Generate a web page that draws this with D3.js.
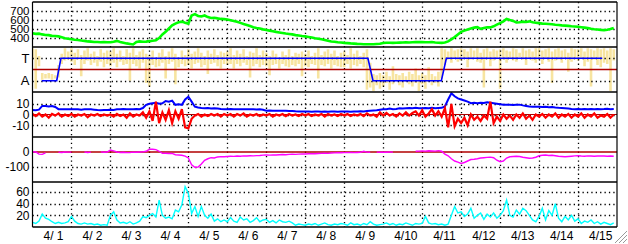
<!DOCTYPE html>
<html>
<head>
<meta charset="utf-8">
<script src="https://cdn.jsdelivr.net/npm/d3@7"></script>
<style>
  html, body { margin: 0; padding: 0; background: #fff; }
  svg { display: block; font-family: "Liberation Sans", Arial, sans-serif; }
</style>
</head>
<body>
<svg id="chart" width="628" height="244"></svg>
<script>
// ── Data: one sample every 2 hours from 4/1 00:00 (12 per day) ─────────────
const green = [
  452,446,448,440,434,432,424,422,418,408,398,392,
  386,380,378,372,368,362,360,356,355,352,354,352,
  352,358,368,356,348,340,334,328,355,362,358,360,
  365,370,376,400,440,470,505,540,560,575,582,570,
  560,650,665,645,640,650,632,622,625,618,612,610,
  605,598,590,580,568,555,545,533,520,512,505,496,
  489,482,475,468,462,456,450,445,440,432,428,422,
  418,412,405,398,392,386,378,370,362,358,352,350,
  346,343,340,338,335,333,331,330,330,331,334,336,
  345,348,347,346,348,349,350,351,350,352,354,355,
  354,353,352,355,350,348,346,350,362,385,410,440,
  468,482,495,505,515,520,502,512,520,518,530,548,
  565,585,612,600,590,572,575,582,578,585,575,570,
  565,560,558,555,552,548,545,540,538,535,530,528,
  525,520,515,510,502,498,495,490,488,492,500,512
];

// pale yellow streaks (T = 1, A = -1): upper and lower end per sample
const yellowHi = [
  1.9,1.8,1.2,-0.3,-0.4,-0.3,-0.4,-0.5,0.4,1.4,1.9,1.6,
  1.9,1.5,1.8,1.3,1.7,1.9,1.4,1.6,1.2,1.8,1.5,1.7,
  1.6,1.9,1.4,1.7,1.2,1.8,1.5,1.9,1.3,1.6,1.8,1.4,
  1.3,1.7,1.1,1.5,1.8,1.2,1.6,1.9,1.4,1.1,1.7,1.3,
  1.8,1.4,1.6,1.9,1.5,1.2,1.7,1.4,1.8,1.3,1.6,1.5,
  1.6,1.9,1.3,1.7,1.4,1.8,1.2,1.6,1.5,1.9,1.3,1.7,
  1.5,1.2,1.7,1.4,1.1,1.6,1.3,1.8,1.2,1.5,1.4,1.6,
  1.4,1.7,1.2,1.5,1.9,1.3,1.6,1.8,1.4,1.7,1.2,1.5,
  1.6,1.3,1.9,1.4,1.7,1.2,1.5,1.8,0.6,-0.4,-0.5,-0.3,
  -0.5,-0.2,-0.6,0.3,-0.4,-0.5,-0.3,-0.6,-0.2,-0.4,0.1,-0.5,
  -0.3,-0.5,0.2,-0.4,-0.6,-0.2,1.9,1.8,1.6,1.9,1.7,1.8,
  1.9,1.8,1.6,1.9,1.7,1.9,1.5,1.8,1.9,1.6,1.8,1.7,
  1.8,1.9,1.7,1.6,1.9,1.8,1.5,1.9,1.7,1.8,1.6,1.9,
  1.9,1.7,1.8,1.9,1.6,1.8,1.9,1.7,1.8,1.5,1.9,1.8,
  1.8,1.9,1.6,1.9,1.8,1.7,1.9,1.8,1.9,1.7,1.9,1.8
];
const yellowLo = [
  0.9,-1.7,0.3,-0.9,-0.8,-0.8,-0.9,-0.8,-0.7,0.5,0.8,0.9,
  0.7,0.4,0.9,-0.6,0.5,0.8,0.4,0.6,0.3,0.7,0.2,0.5,
  0.3,0.6,0.2,0.7,0.4,0.5,-1.0,0.5,0.3,0.1,0.6,-1.2,
  -1.5,0.4,0.2,0.3,0.6,-0.8,0.5,0.7,-1.3,0.2,0.5,0.3,
  0.4,0.1,0.5,0.6,0.2,0.4,-0.4,0.5,0.6,0.3,0.1,0.5,
  0.4,0.5,0.1,0.5,0.3,0.6,0.4,-0.7,0.3,0.5,0.2,0.4,
  0.3,-0.5,0.4,0.5,0.1,0.5,0.3,0.2,0.4,0.3,0.5,-0.6,
  0.3,0.2,0.5,0.4,-0.8,0.4,0.3,0.5,0.1,0.4,0.3,0.2,
  0.2,0.5,0.1,0.4,0.3,0.5,0.2,-1.8,-1.6,-1.9,-1.4,-1.7,
  -1.5,-1.2,-1.8,-1.3,-1.0,-1.4,-1.6,-1.1,-1.3,-1.5,-1.2,-1.9,
  -1.3,-1.7,-1.1,-1.4,-1.2,-1.5,-0.8,0.4,0.9,0.6,1.0,0.7,
  0.8,1.0,0.2,0.9,1.1,0.7,0.6,-1.6,0.9,0.3,0.8,1.0,
  -1.7,0.9,0.6,1.0,0.8,0.7,1.1,0.9,0.4,1.0,0.8,0.6,
  0.9,0.5,1.0,0.7,-1.2,0.8,0.9,0.6,1.0,-0.2,0.7,0.9,
  0.8,1.0,0.3,0.7,-1.5,0.9,0.4,0.2,0.6,0.5,-1.9,0.8
];

// blue mode line in panel 2 (hours from 4/1 00:00)
const modeHours  = [5.7, 14.9, 17.5, 206.6, 209.7, 251.8, 254.9, 350.9];
const modeValues = [-1, -1, 1, 1, -1, -1, 1, 1];

const blue = [
  4.2,4.0,4.5,8,8,7.5,8,7,5,5,4.8,5,
  5,4.8,5,4.5,4.9,5,4.8,4.5,4.2,4,4.2,4.2,
  4.5,4.2,4.8,5,5.2,5,4.8,5,5.2,5,6,9,
  10,10.5,11,10,10.5,12.6,12,13,9,9.5,9,14,
  16.6,12,7.3,6.5,6,5.8,6,5.5,5.8,5.5,5.2,5,
  5,5.2,4.8,5,5,4.8,5,4.8,5,4.7,4.8,4.5,
  3.6,3.8,3.5,3.6,3.4,3.6,3.5,3.3,3.2,3.0,2.9,2.8,
  2.7,2.8,2.6,2.7,2.8,2.6,2.7,2.5,2.7,2.8,2.6,2.7,
  2.7,2.8,2.6,2.9,2.7,3.0,2.8,3.2,3.5,3.8,4.0,4.5,
  4.8,5.0,5.5,5.0,5.2,5.8,5.5,5.8,6.0,5.8,6.2,5.8,
  5.8,6.0,5.8,6.2,5.8,6.0,6.2,7.5,14,19.8,17,15,
  14,13,12,10.5,11,10.5,11,10.8,11.5,11,10.5,10,
  9.5,9,9.2,9,8.8,9,9.2,8.5,8,7.5,7.3,7.2,
  7.3,7,7.2,6.8,7,6.5,6.2,6,5.8,5.5,5.2,5.0,
  5.1,5.0,5.2,4.9,5.1,5.0,5.2,5.0,5.1,5.3,5.0,5.2
];
const red = [
  0.5,-1.5,1,-2,0,-3,0.5,-1,1,-2,0,-1.5,
  0.5,-2,0,-1,0.5,-2.5,0,-1,0.5,-1.5,0,-1,
  0,-2,0.5,-1.5,0,-3,1,-2,0,-1,2,-3,
  3,-6,12,-8,2,-5,4,-8,3,-4,5,-12,
  -13,-4,-1,0.5,-2,0,-1.5,0.5,-1,0.5,-2,0.5,
  -1,0.5,-2,0.5,-1,1,-2,0,-1,0.5,-1.5,0,
  -1,0.5,-2,0,-1,0.5,-1.5,0.5,-1,0,-1.5,0.5,
  -1,0.5,-1.5,0,-1,0.5,-2,0.5,-1,0,-1.5,0.5,
  -1,0.5,-1.5,0,-1,0.5,-1.5,1,-1,0,-2,2,
  -1,1.5,-1,0.5,-2,1,-1,2,-1,1.5,3,-1,
  4,-2,1,5,-1,3,-2,6,-12,10,-11,-4,
  -8,-3,-10,0,-5,-2,-6,-1,-4,12,-8,-2,
  -6,0,-4,-1,-5,0,-3,1,-4,-1,-5,0,
  -2,0.5,-3,0,-2,1,-3,0,-2,0.5,-3,0,
  -2,1,-3,0,-2,1,-3,-1,-2,0.5,-3,0
];
const magenta = [
  2,0,-14,-16,-6,null,null,null,-2,-3,0,-1,
  -1,null,null,null,0,-3,-1,null,null,1,-2,0,
  13,8,0,-3,-2,-4,-3,-1,-2,0,1,5,
  18,18,16,5,-9,-8,-10,-9,-18,-20,-22,-28,
  -40,-85,-102,-100,-80,-55,-45,-38,-40,-33,-31,-32,
  -30,-28,-29,-27,-28,-26,-27,-25,-26,-24,-23,-21,
  -20,-21,-19,-20,-18,-17,-18,-16,-15,-16,-14,-13,
  -13,-12,-11,-12,-10,-9,-8,-9,-7,-6,-5,-5,
  -4,-4,-3,-4,-3,-2,5,-1,-2,null,-1,-2,
  -1,-2,0,-1,null,null,null,null,null,null,5,6,
  7,6,8,7,6,9,5,-15,-25,-45,-60,-68,
  -76,-70,-60,-50,-48,-45,-40,-38,-36,-34,-38,-55,
  -65,-60,-40,-32,-30,-28,-30,-35,-38,-42,-40,-35,
  -25,-22,-20,-23,-22,-25,-28,-30,-32,-30,-28,-26,
  -25,-27,-28,-26,-27,-28,-27,-26,-27,-28,-27,-28
];
const cyan = [
  8,6,10,22,15,13,9,6,8,6,7,9,
  18,10,6,5,7,5,6,4,5,3,4,3,
  20,26,12,7,8,6,9,5,7,10,18,16,
  20,23,17,46,20,15,17,14,29,26,38,69,
  58,23,35,18,35,20,15,22,10,14,9,12,
  9,16,10,8,17,12,14,8,11,16,9,12,
  13,8,11,7,12,9,8,10,7,3,5,4,
  3,5,4,6,3,5,7,4,3,5,4,6,
  5,3,7,4,5,3,6,4,9,5,3,4,
  5,7,4,6,3,5,4,7,5,3,6,5,
  6,18,7,5,6,4,5,3,5,20,35,24,
  26,18,22,32,15,20,24,13,22,17,24,15,
  20,28,46,20,17,29,22,32,28,20,12,9,
  18,32,12,28,20,40,15,9,18,12,20,10,
  14,6,10,8,12,6,9,5,8,6,4,7
];

// ── Axis ticks ─────────────────────────────────────────────────────────────
const ticks1 = [400, 500, 600, 700];
const ticks2 = [1, -1];
const tickLabels2 = ["T", "A"];
const ticks3 = [10, 0, -10];
const ticks4 = [0, -100];
const ticks5 = [20, 40, 60];

// ── Layout ─────────────────────────────────────────────────────────────────
const X0 = 32.5, X1 = 617;
const PANEL_TOP = [2, 47, 92, 137, 182];
const PANEL_H = 45;
const FRAME_BOTTOM = 227;

const start = new Date(2024, 3, 1);
const end   = new Date(2024, 3, 16);
const x = d3.scaleTime().domain([start, end]).range([X0, X1]);
const t = i => d3.timeHour.offset(start, 2 * i);
const th = h => new Date(start.getTime() + h * 3600e3);

const yScale = (p, dom) => d3.scaleLinear().domain(dom).range([PANEL_TOP[p] + PANEL_H, PANEL_TOP[p]]);
const y1 = yScale(0, [300, 800]);
const y2 = yScale(1, [-2, 2]);
const y3 = yScale(2, [-21, 21]);
const y4 = yScale(3, [-200, 100]);
const y5 = yScale(4, [0, 77]);

const svg = d3.select("#chart");

// clip per panel
const defs = svg.append("defs");
PANEL_TOP.forEach((top, p) => {
  defs.append("clipPath").attr("id", "clip" + p)
    .append("rect").attr("x", X0).attr("y", top).attr("width", X1 - X0).attr("height", PANEL_H);
});
const panel = p => svg.append("g").attr("clip-path", `url(#clip${p})`);

// ── Panel 2 yellow goes under the grid ────────────────────────────────────
const g2 = panel(1);
g2.append("g").selectAll("line").data(yellowHi).join("line")
  .attr("x1", (d, i) => x(t(i))).attr("x2", (d, i) => x(t(i)))
  .attr("y1", d => y2(d))
  .attr("y2", (d, i) => Math.max(y2(yellowLo[i]), y2(d) + 1.5))
  .attr("stroke", "#f7e4a0").attr("stroke-width", 2.6);

// ── Grid ───────────────────────────────────────────────────────────────────
const grid = svg.append("g")
  .attr("stroke", "#000").attr("stroke-width", 1.3).attr("stroke-dasharray", "1.3,3.1");

const dayLines = d3.timeDay.range(d3.timeDay.offset(start, 1), end);
grid.selectAll(".vgrid").data(dayLines).join("line")
  .attr("x1", d => Math.round(x(d)) + 0.5).attr("x2", d => Math.round(x(d)) + 0.5)
  .attr("y1", PANEL_TOP[0]).attr("y2", FRAME_BOTTOM);

[[y1, ticks1], [y2, ticks2], [y3, ticks3], [y4, [-100]], [y5, ticks5]].forEach(([ys, tk]) => {
  grid.append("g").selectAll("line").data(tk).join("line")
    .attr("x1", X0).attr("x2", X1)
    .attr("y1", d => Math.round(ys(d)) + 0.5).attr("y2", d => Math.round(ys(d)) + 0.5);
});

// ── Panel 1: green ────────────────────────────────────────────────────────
panel(0).append("path")
  .datum(green)
  .attr("fill", "none").attr("stroke", "#00ff00").attr("stroke-width", 2.6)
  .attr("d", d3.line().x((d, i) => x(t(i))).y(d => y1(d)));

// ── Panel 2: zero line, mode ──────────────────────────────────────────────
const g2b = panel(1);
g2b.append("line")
  .attr("x1", X0).attr("x2", X1).attr("y1", y2(0)).attr("y2", y2(0))
  .attr("stroke", "#b00000").attr("stroke-width", 1.5);
g2b.append("path")
  .datum(modeHours)
  .attr("fill", "none").attr("stroke", "#0000ff").attr("stroke-width", 1.6)
  .attr("d", d3.line().x(d => x(th(d))).y((d, i) => y2(modeValues[i])));

// ── Panel 3: blue / red ───────────────────────────────────────────────────
const g3 = panel(2);
g3.append("line")
  .attr("x1", X0).attr("x2", X1).attr("y1", y3(0)).attr("y2", y3(0))
  .attr("stroke", "#b00000").attr("stroke-width", 1.2);
g3.append("path")
  .datum(blue)
  .attr("fill", "none").attr("stroke", "#0000ff").attr("stroke-width", 2)
  .attr("d", d3.line().x((d, i) => x(t(i))).y(d => y3(d)));
g3.append("path")
  .datum(red)
  .attr("fill", "none").attr("stroke", "#ff0000").attr("stroke-width", 2.2)
  .attr("d", d3.line().x((d, i) => x(t(i))).y(d => y3(d)));

// ── Panel 4: magenta ──────────────────────────────────────────────────────
const g4 = panel(3);
g4.append("line")
  .attr("x1", X0).attr("x2", X1).attr("y1", y4(0)).attr("y2", y4(0))
  .attr("stroke", "#b00000").attr("stroke-width", 1.5);
g4.append("path")
  .datum(magenta)
  .attr("fill", "none").attr("stroke", "#ff00ff").attr("stroke-width", 1.4)
  .attr("d", d3.line().defined(d => d !== null).x((d, i) => x(t(i))).y(d => y4(d)));

// ── Panel 5: cyan ─────────────────────────────────────────────────────────
panel(4).append("path")
  .datum(cyan)
  .attr("fill", "none").attr("stroke", "#00ffff").attr("stroke-width", 1.4)
  .attr("d", d3.line().x((d, i) => x(t(i))).y(d => y5(d)));

// ── Frame ─────────────────────────────────────────────────────────────────
const frame = svg.append("g").attr("stroke", "#000");
frame.selectAll(".sep").data(PANEL_TOP.concat([FRAME_BOTTOM])).join("line")
  .attr("x1", X0).attr("x2", X1).attr("y1", d => d).attr("y2", d => d)
  .attr("stroke-width", 1.6);
frame.selectAll(".side").data([X0, X1]).join("line")
  .attr("x1", d => d).attr("x2", d => d).attr("y1", PANEL_TOP[0]).attr("y2", FRAME_BOTTOM)
  .attr("stroke-width", 1.2);

// ── Labels ────────────────────────────────────────────────────────────────
const labels = svg.append("g").attr("font-size", 12).attr("fill", "#000").attr("text-anchor", "end");
const yl = (ys, tk, fmt) => labels.append("g").selectAll("text").data(tk).join("text")
  .attr("x", 29.5).attr("y", d => ys(d) + 4.3).text(fmt);
yl(y1, ticks1, d => d).attr("font-size", 11.5);
yl(y2, ticks2, (d, i) => tickLabels2[i]).attr("font-size", 13);
yl(y3, ticks3, d => d);
yl(y4, ticks4, d => d);
yl(y5, ticks5, d => d);

const fmtDay = d3.timeFormat("%-m/%e");
svg.append("g").attr("font-size", 12)
  .selectAll("text").data(d3.timeDay.range(start, end)).join("text")
  .attr("x", d => x(d) + 11).attr("y", 240)
  .text(d => fmtDay(d));

// resize grip
const grip = svg.append("g");
[0, 4, 8].forEach(o => {
  grip.append("line").attr("x1", 627).attr("y1", 231 + o).attr("x2", 615 + o).attr("y2", 243)
    .attr("stroke", "#999").attr("stroke-width", 1);
  grip.append("line").attr("x1", 627).attr("y1", 232 + o).attr("x2", 616 + o).attr("y2", 243)
    .attr("stroke", "#fff").attr("stroke-width", 1);
});
</script>
</body>
</html>
